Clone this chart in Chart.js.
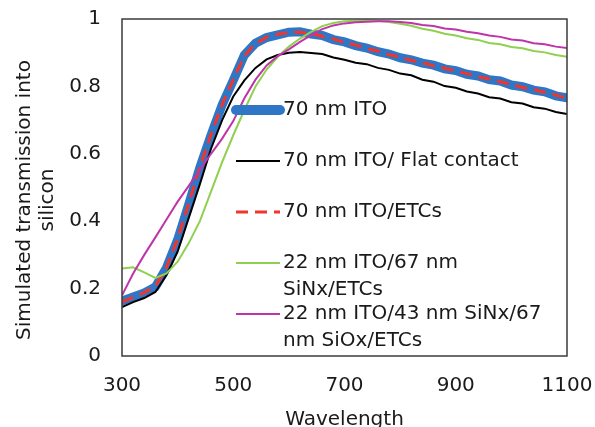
<!DOCTYPE html>
<html>
<head>
<meta charset="utf-8">
<script src="https://cdn.jsdelivr.net/npm/chart.js@4"></script>
<style>
  html, body { margin: 0; padding: 0; background: #fff; overflow: hidden; }
  #wrap { width: 595px; height: 427px; overflow: hidden; }
</style>
</head>
<body>
<div id="wrap"><canvas id="transChart" width="595" height="440"></canvas></div>
<script>
// simulated transmission into silicon vs wavelength, five stack designs

// wavelength samples (nm)
const wavelength = [300,320,340,360,380,400,420,440,460,480,500,520,540,560,580,600,620,640,660,680,
  700,720,740,760,780,800,820,840,860,880,900,920,940,960,980,1000,1020,1040,1060,1080,1100];

// 70 nm ITO
const ito70 = [0.163,0.175,0.187,0.205,0.262,0.345,0.450,0.560,0.655,0.745,0.818,0.893,0.928,0.945,0.953,0.961,0.962,0.955,0.951,0.939,
  0.932,0.921,0.914,0.903,0.896,0.885,0.879,0.869,0.863,0.852,0.847,0.836,0.831,0.820,0.816,0.804,0.799,0.789,0.784,0.772,0.766];
// 70 nm ITO / flat contact
const ito70Flat = [0.145,0.160,0.172,0.190,0.240,0.310,0.410,0.510,0.615,0.700,0.770,0.818,0.855,0.880,0.893,0.900,0.902,0.899,0.896,0.886,
  0.879,0.870,0.866,0.855,0.849,0.838,0.833,0.820,0.814,0.801,0.796,0.785,0.779,0.768,0.764,0.753,0.749,0.738,0.734,0.724,0.718];
// 70 nm ITO / ETCs
const ito70Etc = [0.161,0.174,0.188,0.207,0.264,0.347,0.452,0.561,0.657,0.746,0.820,0.891,0.927,0.946,0.955,0.960,0.961,0.957,0.949,0.941,
  0.930,0.923,0.912,0.905,0.894,0.887,0.877,0.871,0.861,0.854,0.845,0.838,0.829,0.822,0.814,0.806,0.797,0.791,0.782,0.774,0.765];
// 22 nm ITO / 67 nm SiNx / ETCs
const sinxEtc = [0.260,0.263,0.248,0.232,0.245,0.280,0.335,0.400,0.488,0.575,0.655,0.730,0.800,0.850,0.888,0.918,0.942,0.962,0.979,0.988,
  0.993,0.995,0.996,0.995,0.991,0.986,0.980,0.971,0.965,0.956,0.951,0.943,0.938,0.929,0.925,0.917,0.913,0.905,0.901,0.893,0.888];
// 22 nm ITO / 43 nm SiNx / 67 nm SiOx / ETCs
const sioxEtc = [0.180,0.245,0.300,0.352,0.405,0.458,0.505,0.552,0.600,0.645,0.697,0.765,0.820,0.862,0.890,0.910,0.932,0.952,0.970,0.981,
  0.987,0.990,0.992,0.993,0.993,0.991,0.988,0.982,0.979,0.972,0.969,0.962,0.958,0.951,0.947,0.939,0.936,0.928,0.925,0.918,0.914];

const xTicks = [300, 500, 700, 900, 1100];
const yTicks = [0, 0.2, 0.4, 0.6, 0.8, 1];

const keyText = [
  ['70 nm ITO'],
  ['70 nm ITO/ Flat contact'],
  ['70 nm ITO/ETCs'],
  ['22 nm ITO/67 nm', 'SiNx/ETCs'],
  ['22 nm ITO/43 nm SiNx/67', 'nm SiOx/ETCs']
];
const yTitleLines = ['Simulated transmission into', 'silicon'];

const FONT = '"DejaVu Sans", sans-serif';
const INK = '#1a1a1a';
const pts = vals => wavelength.map((w, i) => ({ x: w, y: vals[i] }));

// fixed axis boxes; label overhang is taken from layout.padding instead
function fitX(s) {
  s.height = 84;
  s.paddingLeft = 0;
  s.paddingRight = 0;
}
function fitY(s) {
  s.width = 122;
  s.paddingTop = 0;
  s.paddingBottom = 0;
}

// frame round the plot area
const plotFrame = {
  id: 'plotFrame',
  afterDatasetsDraw(chart) {
    const { ctx, chartArea: a } = chart;
    ctx.save();
    ctx.strokeStyle = '#3b3b3b';
    ctx.lineWidth = 1.5;
    ctx.strokeRect(a.left, a.top, a.right - a.left, a.bottom - a.top);
    ctx.restore();
  }
};

// y axis title, two rotated lines a little below the middle of the plot
const yTitle = {
  id: 'yTitle',
  afterDraw(chart) {
    const ctx = chart.ctx;
    ctx.save();
    ctx.translate(0, 200);
    ctx.rotate(-Math.PI / 2);
    ctx.font = '20px ' + FONT;
    ctx.fillStyle = INK;
    ctx.textAlign = 'center';
    ctx.textBaseline = 'middle';
    yTitleLines.forEach((t, j) => ctx.fillText(t, 0, 25 + j * 23));
    ctx.restore();
  }
};

// key drawn inside the plot, one row per series
const seriesKey = {
  id: 'seriesKey',
  afterDraw(chart) {
    const ctx = chart.ctx;
    const a = chart.chartArea;
    const rows = [91, 142, 193, 244, 295];
    ctx.save();
    ctx.font = '20px ' + FONT;
    ctx.fillStyle = INK;
    ctx.textBaseline = 'middle';
    chart.data.datasets.forEach((ds, i) => {
      const y = a.top + rows[i];
      ctx.beginPath();
      ctx.strokeStyle = ds.borderColor;
      ctx.lineWidth = ds.keyWidth;
      ctx.lineCap = ds.borderCapStyle || 'butt';
      ctx.setLineDash(ds.borderDash || []);
      ctx.moveTo(a.left + 114, y);
      ctx.lineTo(a.left + 158, y);
      ctx.stroke();
      keyText[i].forEach((t, j) => ctx.fillText(t, a.left + 161, y + j * 27));
    });
    ctx.restore();
  }
};

new Chart(document.getElementById('transChart'), {
  type: 'line',
  data: {
    datasets: [
      { label: keyText[0].join(' '), data: pts(ito70), borderColor: '#2f77c6', borderWidth: 9, keyWidth: 10, borderCapStyle: 'round', order: 5 },
      { label: keyText[1].join(' '), data: pts(ito70Flat), borderColor: '#000000', borderWidth: 2, keyWidth: 2, order: 4 },
      { label: keyText[2].join(' '), data: pts(ito70Etc), borderColor: '#f0352d', borderWidth: 3, keyWidth: 3, borderDash: [12, 7], order: 3 },
      { label: keyText[3].join(' '), data: pts(sinxEtc), borderColor: '#8fd050', borderWidth: 2, keyWidth: 2, order: 2 },
      { label: keyText[4].join(' '), data: pts(sioxEtc), borderColor: '#bf35a8', borderWidth: 2, keyWidth: 2, order: 1 }
    ]
  },
  options: {
    responsive: false,
    animation: false,
    devicePixelRatio: 1,
    layout: { padding: { top: 19, right: 28, left: 0, bottom: 0 } },
    elements: { point: { radius: 0 }, line: { tension: 0 } },
    plugins: { legend: { display: false }, tooltip: { enabled: false } },
    scales: {
      x: {
        type: 'linear',
        min: 300,
        max: 1100,
        afterBuildTicks: s => { s.ticks = xTicks.map(v => ({ value: v })); },
        afterFit: fitX,
        grid: { display: false, drawTicks: false },
        border: { display: false },
        ticks: { padding: 18, color: INK, font: { family: FONT, size: 20 }, callback: v => String(v), maxRotation: 0 },
        title: { display: true, text: 'Wavelength', color: INK, font: { family: FONT, size: 20 }, padding: { top: 0, bottom: 8 } }
      },
      y: {
        min: 0,
        max: 1,
        afterBuildTicks: s => { s.ticks = yTicks.map(v => ({ value: v })); },
        afterFit: fitY,
        grid: { display: false, drawTicks: false },
        border: { display: false },
        ticks: { padding: 21, color: INK, font: { family: FONT, size: 20 }, callback: v => String(v) }
      }
    }
  },
  plugins: [plotFrame, yTitle, seriesKey]
});
</script>
</body>
</html>
